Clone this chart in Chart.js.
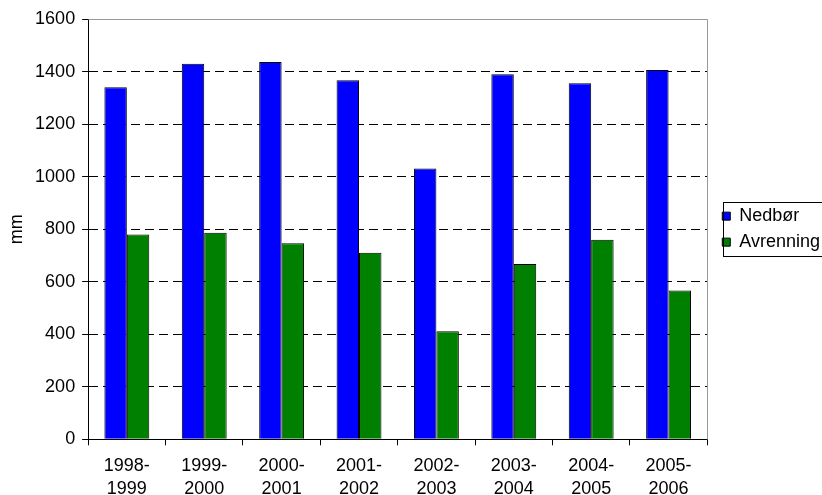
<!DOCTYPE html>
<html>
<head>
<meta charset="utf-8">
<script src="https://cdn.jsdelivr.net/npm/chart.js@4/dist/chart.umd.min.js"></script>
<style>
  html, body { margin: 0; padding: 0; background: #fff; }
  canvas { display: block; }
</style>
</head>
<body>
<canvas id="chart" width="822" height="495"></canvas>
<script>
const seasons = ["1998-1999", "1999-2000", "2000-2001", "2001-2002",
                 "2002-2003", "2003-2004", "2004-2005", "2005-2006"];
const nedbor = [1340, 1430, 1436, 1367, 1031, 1390, 1355, 1406];
const avrenning = [780, 786, 746, 710, 411, 667, 760, 566];
const yTicks = [0, 200, 400, 600, 800, 1000, 1200, 1400, 1600];

Chart.defaults.font.family = "'Liberation Sans', Arial, sans-serif";
Chart.defaults.font.size = 18;
Chart.defaults.color = "#000";

const LEGEND_SHIFT = 7;

// gray frame on top/right of the plot, boxed legend
const framePlugin = {
  id: "frame",
  afterLayout(chart) {
    const lg = chart.legend;
    lg.left += LEGEND_SHIFT;
    lg.right += LEGEND_SHIFT;
    (lg.legendHitBoxes || []).forEach((h) => { h.left += LEGEND_SHIFT; });
  },
  afterDraw(chart) {
    const { ctx, chartArea: a, legend } = chart;
    ctx.save();
    ctx.strokeStyle = "#999";
    ctx.lineWidth = 1;
    ctx.beginPath();
    ctx.moveTo(Math.round(a.left) + 0.5, Math.round(a.top) + 0.5);
    ctx.lineTo(Math.round(a.right) + 0.5, Math.round(a.top) + 0.5);
    ctx.lineTo(Math.round(a.right) + 0.5, Math.round(a.bottom) + 0.5);
    ctx.stroke();

    const boxes = legend.legendHitBoxes;
    if (boxes && boxes.length) {
      const first = boxes[0];
      const last = boxes[boxes.length - 1];
      const x = Math.round(first.left - 6) + 0.5;
      const y = Math.round(first.top - 5) + 0.5;
      const bottom = Math.round(last.top + last.height + 5) + 0.5;
      ctx.strokeStyle = "#000";
      ctx.strokeRect(x, y, chart.width + 5 - x, bottom - y);
    }
    ctx.restore();
  }
};

new Chart(document.getElementById("chart"), {
  type: "bar",
  data: {
    labels: seasons.map((s) => [s.slice(0, 5), s.slice(5)]),
    datasets: [
      {
        label: "Nedbør",
        data: nedbor,
        backgroundColor: "#0000FF",
        borderColor: "#000",
        borderWidth: 1,
        categoryPercentage: 0.58,
        barPercentage: 1.0
      },
      {
        label: "Avrenning",
        data: avrenning,
        backgroundColor: "#008000",
        borderColor: "#000",
        borderWidth: 1,
        categoryPercentage: 0.58,
        barPercentage: 1.0
      }
    ]
  },
  options: {
    responsive: false,
    animation: false,
    layout: { padding: { top: 19, left: 6, right: -1, bottom: -14 } },
    plugins: {
      tooltip: { enabled: false },
      legend: {
        position: "right",
        fullSize: false,
        labels: {
          boxWidth: 8,
          boxHeight: 8,
          padding: 8,
          font: { size: 18 }
        }
      }
    },
    scales: {
      x: {
        grid: {
          display: true,
          drawOnChartArea: false,
          drawTicks: true,
          tickLength: 6,
          color: "#000",
          offset: true
        },
        border: { display: true, color: "#000", width: 1 },
        ticks: { padding: 9, maxRotation: 0, font: { size: 18, lineHeight: 1.27 } }
      },
      y: {
        min: 0,
        max: 1600,
        afterBuildTicks: (scale) => {
          scale.ticks = yTicks.map((v) => ({ value: v }));
        },
        grid: {
          color: (ctx) => (ctx.tick && ctx.tick.value === 1600 ? "#999" : "#000"),
          tickLength: 6,
          tickColor: "#000",
          tickBorderDash: []
        },
        border: { display: true, color: "#000", width: 1, dash: [9, 5] },
        ticks: {
          padding: 7,
          font: { size: 18 },
          callback: (v) => String(v)
        },
        title: {
          display: true,
          text: "mm",
          font: { size: 18 },
          padding: { top: 0, bottom: 0.5 }
        }
      }
    }
  },
  plugins: [framePlugin]
});
</script>
</body>
</html>
